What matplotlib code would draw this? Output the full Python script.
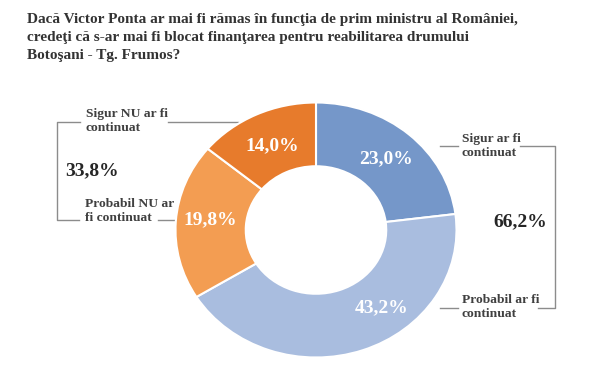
import matplotlib
matplotlib.use("Agg")
import matplotlib.pyplot as plt

# date sondaj
categorii = ['Sigur ar fi\ncontinuat', 'Probabil ar fi\ncontinuat',
             'Probabil NU ar\nfi continuat', 'Sigur NU ar fi\ncontinuat']
procente = [23.0, 43.2, 19.8, 14.0]
culori = ['#7597C9', '#A9BDDF', '#F39D52', '#E77B2C']
titlu = ("Dacă Victor Ponta ar mai fi rămas în funcţia de prim ministru al României,\n"
         "credeţi că s-ar mai fi blocat finanţarea pentru reabilitarea drumului\n"
         "Botoşani - Tg. Frumos?")

FONT = 'Liberation Serif'
W, H = 600, 368


def fmt(v):
    return ('%.1f%%' % v).replace('.', ',')


fig = plt.figure(figsize=(6, 3.68), dpi=100)
fig.patch.set_facecolor('white')

# axa de fundal in pixeli pentru acolade / etichete
ax_bg = fig.add_axes([0, 0, 1, 1])
ax_bg.set_xlim(0, W)
ax_bg.set_ylim(H, 0)
ax_bg.axis('off')

fig.text(27 / W, 1 - 13 / H, titlu, ha='left', va='top', fontsize=11,
         fontweight='bold', family=FONT, color='#333333', linespacing=1.5)

# donut (usor turtit ca in original)
cx, cy, rx, ry = 316, 230, 140.5, 127.5
ax = fig.add_axes([(cx - rx) / W, (H - cy - ry) / H, 2 * rx / W, 2 * ry / H])
wedges, texts, autotexts = ax.pie(
    procente, colors=culori, startangle=90, counterclock=False,
    autopct=lambda p: '', pctdistance=0.75,
    wedgeprops=dict(width=0.5, edgecolor='white', linewidth=1.5))
ax.set_aspect('auto')
ax.set_xlim(-1, 1)
ax.set_ylim(-1, 1)

for t, v in zip(autotexts, procente):
    t.set_text(fmt(v))
    t.set_color('white')
    t.set_fontsize(14)
    t.set_fontweight('bold')
    t.set_family(FONT)
# eticheta 43,2% e mutata mai spre dreapta in original
autotexts[1].set_position((0.47, -0.61))
autotexts[2].set_position((-0.75, 0.08))
autotexts[3].set_position((-0.31, 0.66))

lc = '#8c8c8c'
tc = '#404040'
lw = 1.0

# acolada stanga (NU)
ax_bg.plot([80, 57, 57, 79], [122, 122, 220, 220], color=lc, lw=lw)
ax_bg.plot([168, 238], [122, 122], color=lc, lw=lw)
ax_bg.plot([158, 176], [220, 220], color=lc, lw=lw)
ax_bg.text(86, 121, categorii[3], ha='left', va='center', fontsize=9.7,
           fontweight='bold', family=FONT, color=tc, linespacing=1.3)
ax_bg.text(85, 211, categorii[2], ha='left', va='center', fontsize=9.7,
           fontweight='bold', family=FONT, color=tc, linespacing=1.3)
ax_bg.text(65, 171, fmt(procente[2] + procente[3]), ha='left', va='center',
           fontsize=14, fontweight='bold', family=FONT, color='#262626')

# acolada dreapta (DA)
ax_bg.plot([440, 458], [146, 146], color=lc, lw=lw)
ax_bg.plot([520, 555, 555, 538], [146, 146, 308, 308], color=lc, lw=lw)
ax_bg.plot([440, 458], [308, 308], color=lc, lw=lw)
ax_bg.text(462, 146, categorii[0], ha='left', va='center', fontsize=9.7,
           fontweight='bold', family=FONT, color=tc, linespacing=1.3)
ax_bg.text(462, 307, categorii[1], ha='left', va='center', fontsize=9.7,
           fontweight='bold', family=FONT, color=tc, linespacing=1.3)
ax_bg.text(493, 222, fmt(procente[0] + procente[1]), ha='left', va='center',
           fontsize=14, fontweight='bold', family=FONT, color='#262626')

plt.savefig('out.png', dpi=100, facecolor='white')
